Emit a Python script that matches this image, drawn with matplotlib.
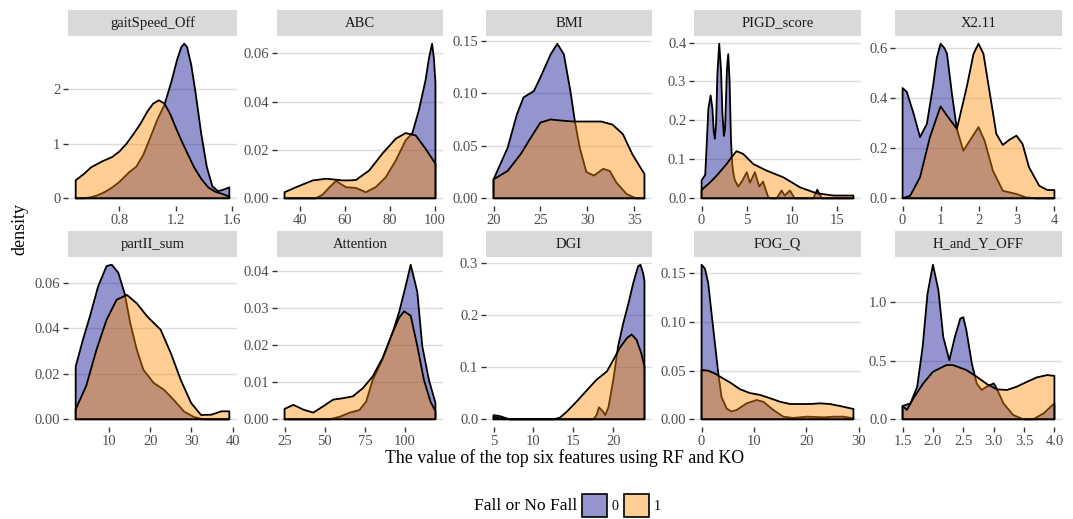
import matplotlib
matplotlib.use('Agg')
import matplotlib.pyplot as plt
from matplotlib.patches import Polygon, Rectangle

plt.rcParams['font.family'] = ['Liberation Serif', 'DejaVu Serif']

########################## values ##########################
panel_names = ['gaitSpeed_Off', 'ABC', 'BMI', 'PIGD_score', 'X2.11',
               'partII_sum', 'Attention', 'DGI', 'FOG_Q', 'H_and_Y_OFF']
groups = ['0', '1']

# gaitSpeed_Off
gait_x0 = [0.49, 0.55, 0.60, 0.65, 0.70, 0.75, 0.80, 0.87, 0.92, 0.97, 1.02, 1.07, 1.12,
           1.17, 1.21, 1.24, 1.26, 1.28, 1.31, 1.34, 1.38, 1.42, 1.46, 1.50, 1.54, 1.58]
gait_y0 = [0.00, 0.00, 0.02, 0.06, 0.12, 0.20, 0.30, 0.48, 0.58, 0.80, 1.12, 1.45, 1.72,
           2.15, 2.55, 2.78, 2.84, 2.78, 2.45, 1.95, 1.20, 0.58, 0.22, 0.13, 0.16, 0.20]
gait_x1 = [0.49, 0.55, 0.60, 0.68, 0.75, 0.80, 0.85, 0.90, 0.95, 1.00, 1.04, 1.08, 1.12,
           1.16, 1.20, 1.24, 1.28, 1.33, 1.38, 1.43, 1.48, 1.53, 1.58]
gait_y1 = [0.33, 0.45, 0.57, 0.68, 0.76, 0.86, 1.00, 1.18, 1.37, 1.60, 1.74, 1.80, 1.74,
           1.55, 1.30, 1.06, 0.84, 0.57, 0.36, 0.20, 0.12, 0.08, 0.03]

# ABC
abc_x0 = [33, 40, 47, 50, 53, 56, 58, 60.4, 64.8, 69.3, 73.7, 78.2, 82.7, 87.1, 90.1,
          93, 96, 97.5, 98.9, 99.7, 100.4]
abc_y0 = [0, 0, 0, 0.0015, 0.0045, 0.0072, 0.006, 0.0046, 0.0043, 0.0025, 0.0046, 0.0087,
          0.0157, 0.024, 0.027, 0.0365, 0.049, 0.058, 0.064, 0.058, 0.048]
abc_x1 = [33, 38.2, 45.6, 51.6, 58.9, 62, 65, 67, 70.8, 76.7, 82.7, 87.1, 91.6, 96, 100.4]
abc_y1 = [0.0025, 0.0046, 0.0074, 0.0081, 0.0074, 0.0074, 0.0076, 0.009, 0.0115, 0.0185,
          0.0247, 0.027, 0.026, 0.0205, 0.0143]

# BMI
bmi_x0 = [20, 21.5, 22.5, 23.2, 24.3, 25, 26.1, 26.8, 27.5, 28.2, 28.7, 29.2, 29.9, 30.7,
          31.7, 32.4, 33.1, 34.2, 35.2, 36.1]
bmi_y0 = [0.018, 0.048, 0.080, 0.096, 0.102, 0.115, 0.137, 0.147, 0.137, 0.102, 0.072,
          0.048, 0.025, 0.0216, 0.028, 0.026, 0.015, 0.004, 0, 0]
bmi_x1 = [20, 21.5, 22.9, 24, 25, 26.1, 27.1, 28.5, 30, 31.5, 32.7, 33.8, 34.8, 36.1]
bmi_y1 = [0.018, 0.026, 0.042, 0.058, 0.072, 0.075, 0.074, 0.073, 0.073, 0.073, 0.070,
          0.061, 0.042, 0.023]

# PIGD_score
pigd_x0 = [0, 0.4, 0.55, 0.75, 1.0, 1.2, 1.35, 1.47, 1.6, 1.75, 1.95, 2.15, 2.3, 2.47,
           2.6, 2.8, 2.95, 3.1, 3.25, 3.4, 3.55, 3.69, 4.06, 4.5, 5.0, 5.35, 5.9, 6.38,
           6.8, 7.37, 7.7, 8.3, 8.85, 9.2, 9.77, 10.3, 12.35, 12.8, 13.3, 16.8]
pigd_y0 = [0.046, 0.06, 0.13, 0.23, 0.264, 0.23, 0.17, 0.153, 0.19, 0.32, 0.397, 0.33,
           0.22, 0.16, 0.18, 0.33, 0.37, 0.30, 0.15, 0.085, 0.06, 0.046, 0.03, 0.045,
           0.067, 0.04, 0.067, 0.03, 0.043, 0.003, 0, 0, 0.02, 0.007, 0.02, 0, 0, 0.022,
           0, 0]
pigd_x1 = [0, 0.18, 0.9, 1.66, 2.77, 3.3, 3.87, 4.6, 5.72, 7.2, 9.03, 10.9, 12.7, 14.6, 16.8]
pigd_y1 = [0.02, 0.025, 0.04, 0.058, 0.088, 0.105, 0.121, 0.114, 0.088, 0.071, 0.054,
           0.028, 0.013, 0.007, 0.007]

# X2.11
x211_x0 = [0, 0.11, 0.29, 0.46, 0.64, 0.81, 0.9, 1.0, 1.1, 1.17, 1.3, 1.43, 1.6, 1.77,
           2.0, 2.16, 2.38, 2.64, 3.0, 3.24, 3.5, 4]
x211_y0 = [0.44, 0.425, 0.338, 0.244, 0.297, 0.457, 0.56, 0.617, 0.60, 0.577, 0.417, 0.277,
           0.19, 0.23, 0.284, 0.23, 0.11, 0.03, 0.017, 0.004, 0, 0]
x211_x1 = [0, 0.2, 0.46, 0.72, 1.0, 1.17, 1.43, 1.69, 1.87, 2.0, 2.13, 2.3, 2.47, 2.64,
           2.81, 3.0, 3.16, 3.33, 3.6, 3.81, 4]
x211_y1 = [0, 0.01, 0.084, 0.244, 0.367, 0.33, 0.277, 0.444, 0.577, 0.617, 0.577, 0.417,
           0.257, 0.213, 0.233, 0.25, 0.217, 0.124, 0.05, 0.033, 0.033]

# partII_sum
part_x0 = [1.84, 3.6, 5.3, 7.3, 9.35, 10.6, 12.2, 13.8, 15.1, 16.7, 18.3, 20.8, 23.3,
           25.7, 28.2, 30.6, 33, 39.2]
part_y0 = [0.0232, 0.035, 0.0453, 0.0585, 0.0674, 0.068, 0.0645, 0.055, 0.0424, 0.0306,
           0.0218, 0.016, 0.013, 0.0085, 0.0034, 0.001, 0, 0]
part_x1 = [1.84, 4.4, 6.9, 9.35, 11.8, 14.3, 16.7, 19.2, 22.5, 25, 27.4, 29.9, 32.3, 34.8,
           37.3, 39.2]
part_y1 = [0.0044, 0.0147, 0.0306, 0.0438, 0.0526, 0.0547, 0.051, 0.0453, 0.0394, 0.029,
           0.0173, 0.0072, 0.0019, 0.002, 0.0035, 0.0035]

# Attention
att_x0 = [25, 53, 59.4, 65.5, 71.6, 75.8, 79.9, 86, 92.2, 96.3, 100.4, 103.5, 107.6,
          110.7, 114.8, 118.9]
att_y0 = [0, 0, 0.0007, 0.0018, 0.0025, 0.0048, 0.0107, 0.0162, 0.0234, 0.029, 0.0361,
          0.0418, 0.0345, 0.0198, 0.0107, 0.0044]
att_x1 = [25, 30.5, 36.7, 42.9, 49, 55.2, 61.4, 67.5, 73.7, 79.9, 86, 92.2, 96.3, 99.4,
          103.5, 107.6, 111.7, 115.8, 118.9]
att_y1 = [0.0028, 0.0039, 0.0026, 0.0018, 0.0035, 0.0053, 0.0057, 0.0062, 0.0084, 0.0116,
          0.0166, 0.0234, 0.0275, 0.0292, 0.028, 0.0198, 0.0107, 0.0048, 0.0022]

# DGI
dgi_x0 = [5, 5.8, 7, 17.5, 17.9, 18.2, 18.7, 19, 19.4, 20, 20.6, 21.25, 21.9, 22.5, 23.1,
          23.4, 23.75, 23.9]
dgi_y0 = [0.008, 0.006, 0, 0, 0.008, 0.023, 0.015, 0.008, 0.024, 0.076, 0.14, 0.185,
          0.223, 0.262, 0.294, 0.297, 0.28, 0.265]
dgi_x1 = [5, 5.8, 7, 12.5, 13.3, 14.2, 15.4, 16.7, 17.9, 19.2, 20, 20.8, 21.7, 22.3, 22.9,
          23.5, 23.9]
dgi_y1 = [0.005, 0.002, 0, 0, 0.003, 0.015, 0.034, 0.056, 0.076, 0.092, 0.114, 0.137,
          0.156, 0.163, 0.153, 0.127, 0.101]

# FOG_Q
fog_x0 = [0, 0.64, 1.27, 1.9, 2.55, 3.2, 3.8, 4.8, 5.7, 6.7, 8.6, 10.5, 11.8, 13.7, 15.6,
          17.5, 20.1, 23.3, 25.2, 27.1, 29]
fog_y0 = [0.159, 0.155, 0.14, 0.109, 0.078, 0.047, 0.023, 0.011, 0.008, 0.0096, 0.0164,
          0.0198, 0.018, 0.0096, 0.0027, 0.0014, 0.0027, 0.002, 0.0027, 0.0027, 0.001]
fog_x1 = [0, 1.27, 2.55, 3.8, 5.7, 7.3, 9.2, 11.2, 13.1, 15, 16.9, 18.8, 20.7, 22.6, 24.5,
          26.4, 28.4, 29]
fog_y1 = [0.0507, 0.05, 0.047, 0.043, 0.037, 0.031, 0.027, 0.025, 0.0216, 0.018, 0.0157,
          0.0157, 0.0157, 0.0164, 0.0157, 0.0137, 0.0113, 0.0106]

# H_and_Y_OFF
hy_x0 = [1.5, 1.63, 1.74, 1.83, 1.91, 2.0, 2.09, 2.17, 2.27, 2.36, 2.45, 2.5, 2.55, 2.64,
         2.72, 2.8, 2.89, 3.0, 3.05, 3.16, 3.32, 3.49, 3.65, 3.82, 4.0]
hy_y0 = [0.113, 0.136, 0.277, 0.617, 1.07, 1.318, 1.1, 0.70, 0.504, 0.70, 0.859, 0.87,
         0.76, 0.476, 0.306, 0.25, 0.28, 0.306, 0.263, 0.136, 0.037, 0, 0, 0.05, 0.136]
hy_x1 = [1.5, 1.57, 1.68, 1.84, 2.0, 2.22, 2.33, 2.55, 2.72, 2.89, 3.05, 3.22, 3.38, 3.55,
         3.71, 3.88, 4.0]
hy_y1 = [0.113, 0.08, 0.18, 0.306, 0.405, 0.462, 0.462, 0.42, 0.363, 0.3, 0.255, 0.25,
         0.278, 0.32, 0.357, 0.377, 0.37]

curves = [
    (gait_x0, gait_y0, gait_x1, gait_y1),
    (abc_x0, abc_y0, abc_x1, abc_y1),
    (bmi_x0, bmi_y0, bmi_x1, bmi_y1),
    (pigd_x0, pigd_y0, pigd_x1, pigd_y1),
    (x211_x0, x211_y0, x211_x1, x211_y1),
    (part_x0, part_y0, part_x1, part_y1),
    (att_x0, att_y0, att_x1, att_y1),
    (dgi_x0, dgi_y0, dgi_x1, dgi_y1),
    (fog_x0, fog_y0, fog_x1, fog_y1),
    (hy_x0, hy_y0, hy_x1, hy_y1),
]

x_ticks = [[0.8, 1.2, 1.6], [40, 60, 80, 100], [20, 25, 30, 35], [0, 5, 10, 15],
           [0, 1, 2, 3, 4], [10, 20, 30, 40], [25, 50, 75, 100], [5, 10, 15, 20],
           [0, 10, 20, 30], [1.5, 2.0, 2.5, 3.0, 3.5, 4.0]]
x_labels = [['0.8', '1.2', '1.6'], ['40', '60', '80', '100'], ['20', '25', '30', '35'],
            ['0', '5', '10', '15'], ['0', '1', '2', '3', '4'], ['10', '20', '30', '40'],
            ['25', '50', '75', '100'], ['5', '10', '15', '20'], ['0', '10', '20', '30'],
            ['1.5', '2.0', '2.5', '3.0', '3.5', '4.0']]
y_ticks = [[0, 1, 2], [0, 0.02, 0.04, 0.06], [0, 0.05, 0.10, 0.15], [0, 0.1, 0.2, 0.3, 0.4],
           [0, 0.2, 0.4, 0.6], [0, 0.02, 0.04, 0.06], [0, 0.01, 0.02, 0.03, 0.04],
           [0, 0.1, 0.2, 0.3], [0, 0.05, 0.10, 0.15], [0, 0.5, 1.0]]
y_labels = [['0', '1', '2'], ['0.00', '0.02', '0.04', '0.06'], ['0.00', '0.05', '0.10', '0.15'],
            ['0.0', '0.1', '0.2', '0.3', '0.4'], ['0.0', '0.2', '0.4', '0.6'],
            ['0.00', '0.02', '0.04', '0.06'], ['0.00', '0.01', '0.02', '0.03', '0.04'],
            ['0.0', '0.1', '0.2', '0.3'], ['0.00', '0.05', '0.10', '0.15'], ['0.0', '0.5', '1.0']]

fill_colors = ['#00008b', '#ff8c00']

################################## layout #####################################
W, H = 1073, 519
fig = plt.figure(figsize=(W / 100, H / 100), dpi=100)

cols = [(68, 237), (277, 443), (486, 652), (694, 861), (895, 1062)]   # pixel left/right
rows = [(36, 206), (257, 427)]                                         # pixel top/bottom
strip_h = 26

for i, name in enumerate(panel_names):
    l, r = cols[i % 5]
    t, b = rows[i // 5]
    ax = fig.add_axes([l / W, 1 - b / H, (r - l) / W, (b - t) / H])

    xa, ya, xb, yb = curves[i]
    for k, (xs, ys) in enumerate([(xa, ya), (xb, yb)]):
        pts = [(xs[0], 0)] + list(zip(xs, ys)) + [(xs[-1], 0)]
        ax.add_patch(Polygon(pts, closed=True, facecolor=fill_colors[k], alpha=0.42,
                             edgecolor='none', zorder=2 + k))
        ax.add_patch(Polygon(pts, closed=True, facecolor='none', edgecolor='black',
                             lw=1.3, joinstyle='round', zorder=2 + k))

    # ggplot-like 5% expansion
    xmin = min(xa[0], xb[0]); xmax = max(xa[-1], xb[-1])
    ymax = max(max(ya), max(yb))
    dx = (xmax - xmin) * 0.05
    ax.set_xlim(xmin - dx, xmax + dx)
    ax.set_ylim(-0.05 * ymax, 1.05 * ymax)

    ax.set_xticks(x_ticks[i])
    ax.set_xticklabels(x_labels[i])
    ax.set_yticks(y_ticks[i])
    ax.set_yticklabels(y_labels[i])
    ax.tick_params(axis='both', length=3.5, width=1, color='#333333',
                   labelcolor='#4d4d4d', labelsize=10.5, pad=2)
    ax.yaxis.grid(True, color='#dcdcdc', lw=1)
    ax.xaxis.grid(False)
    ax.set_axisbelow(True)
    for s in ax.spines.values():
        s.set_visible(False)

    # facet strip
    sh = strip_h / (b - t)
    ax.add_patch(Rectangle((0, 1), 1, sh, transform=ax.transAxes, clip_on=False,
                           facecolor='#d9d9d9', edgecolor='none'))
    ax.text(0.5, 1 + sh / 2, name, transform=ax.transAxes, ha='center', va='center',
            fontsize=10.5, color='#1a1a1a')

fig.text(20 / W, 1 - 229 / H, 'density', rotation=90, ha='center', va='center', fontsize=13)
fig.text(565 / W, 1 - 458 / H, 'The value of the top six features using RF and KO',
         ha='center', va='center', fontsize=12.8)

# legend
fig.text(577 / W, 1 - 506 / H, 'Fall or No Fall', ha='right', va='center', fontsize=12.5)
key_x = [582, 624]
for k, g in enumerate(groups):
    fig.add_artist(Rectangle((key_x[k] / W, 1 - 517 / H), 25 / W, 23 / H,
                             transform=fig.transFigure, facecolor=fill_colors[k],
                             alpha=0.42, edgecolor='none'))
    fig.add_artist(Rectangle((key_x[k] / W, 1 - 517 / H), 25 / W, 23 / H,
                             transform=fig.transFigure, facecolor='none',
                             edgecolor='black', lw=1.2))
    fig.text((key_x[k] + 30) / W, 1 - 506 / H, g, ha='left', va='center', fontsize=10)

fig.savefig('out.png', dpi=100)
